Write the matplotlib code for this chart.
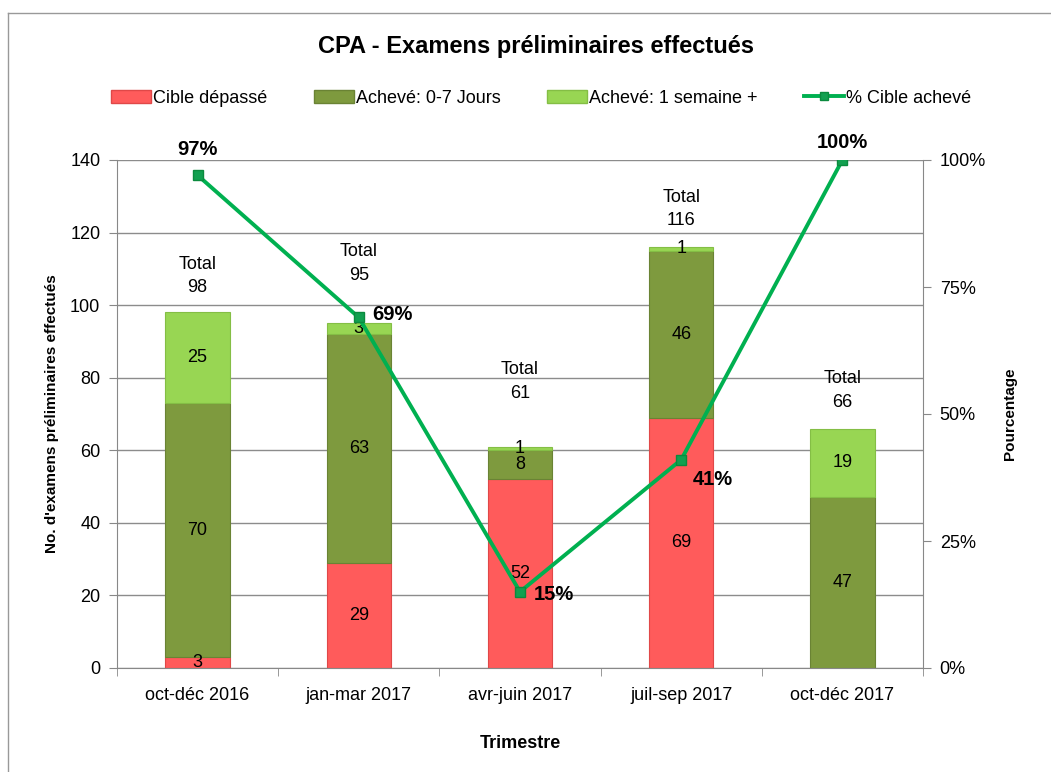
import numpy as np
import matplotlib.pyplot as plt
from matplotlib.lines import Line2D
from matplotlib.patches import Patch

plt.rcParams['font.family'] = ['Liberation Sans Narrow', 'Liberation Sans', 'DejaVu Sans']

trimestres = ["oct-déc 2016", "jan-mar 2017", "avr-juin 2017", "juil-sep 2017", "oct-déc 2017"]
cible_depasse = [3, 29, 52, 69, 0]
acheve_0_7 = [70, 63, 8, 46, 47]
acheve_1_sem = [25, 3, 1, 1, 19]
totaux = [98, 95, 61, 116, 66]
pct_cible = [0.97, 0.69, 0.15, 0.41, 1.00]
pct_labels = ["97%", "69%", "15%", "41%", "100%"]

c_red = "#FF5B5B"
c_dark = "#7E9A3E"
c_light = "#98D653"
c_line = "#00B050"

fig = plt.figure(figsize=(10.51, 7.72), dpi=100)
ax = fig.add_axes([117 / 1051, 1 - 668 / 772, (923 - 117) / 1051, (668 - 160) / 772])

x = np.arange(len(trimestres))
w = 0.4
b1 = np.array(cible_depasse)
b2 = b1 + np.array(acheve_0_7)

ax.bar(x, cible_depasse, w, color=c_red, edgecolor="#E04848", linewidth=0.8, zorder=2)
ax.bar(x, acheve_0_7, w, bottom=b1, color=c_dark, edgecolor="#6A8334", linewidth=0.8, zorder=2)
ax.bar(x, acheve_1_sem, w, bottom=b2, color=c_light, edgecolor="#84BE45", linewidth=0.8, zorder=2)

# segment labels
for i in range(len(x)):
    segs = [(0, cible_depasse[i]), (b1[i], acheve_0_7[i]), (b2[i], acheve_1_sem[i])]
    for bot, v in segs:
        if v > 0:
            ax.text(x[i], bot + v / 2, str(v), ha="center", va="center", fontsize=13, zorder=5)

# total labels
total_offsets = [10, 16.5, 18, 10.5, 10.5]
for i in range(len(x)):
    ax.text(x[i], totaux[i] + total_offsets[i], "Total\n" + str(totaux[i]), ha="center", va="center",
            fontsize=13, linespacing=1.5, zorder=5)

ax.set_xlim(-0.5, len(x) - 0.5)
ax.set_ylim(0, 140)
ax.set_yticks(range(0, 141, 20))
ax.set_xticks(x)
ax.set_xticklabels(trimestres, fontsize=13)
ax.set_xticks(np.arange(-0.5, len(x)), minor=True)
ax.tick_params(axis="x", which="major", length=0, pad=14)
ax.tick_params(axis="x", which="minor", length=6, color="#888888", direction="out")
ax.tick_params(axis="y", length=6, color="#888888", labelsize=13, pad=6)
ax.grid(axis="y", color="#8C8C8C", linewidth=1, zorder=0)
ax.set_axisbelow(True)
for s in ["top", "right"]:
    ax.spines[s].set_visible(False)
ax.spines["left"].set_color("#888888")
ax.spines["bottom"].set_color("#888888")
ax.set_ylabel("No. d'examens préliminaires effectués", fontsize=11, fontweight="bold", labelpad=8)
ax.set_xlabel("Trimestre", fontsize=13, fontweight="bold", labelpad=22)

ax2 = ax.twinx()
ax2.set_ylim(0, 1)
ax2.set_yticks([0, 0.25, 0.5, 0.75, 1.0])
ax2.set_yticklabels(["0%", "25%", "50%", "75%", "100%"])
ax2.tick_params(axis="y", length=6, color="#888888", labelsize=13, pad=6)
for s in ["top", "left", "bottom"]:
    ax2.spines[s].set_visible(False)
ax2.spines["right"].set_color("#888888")
ax2.set_ylabel("Pourcentage", fontsize=11, fontweight="bold", labelpad=12)
ax2.plot(x, pct_cible, color=c_line, linewidth=2.8, marker="s", markersize=7,
         markerfacecolor="#12A050", markeredgecolor="#0B8A3E", zorder=4)

pct_pos = [(0, 12, "center", "bottom"), (10, 2, "left", "center"), (10, -2, "left", "center"),
           (8, -14, "left", "center"), (0, 6, "center", "bottom")]
for i in range(len(x)):
    dx, dy, ha, va = pct_pos[i]
    ax2.annotate(pct_labels[i], (x[i], pct_cible[i]), xytext=(dx, dy), textcoords="offset points",
                 ha=ha, va=va, fontsize=14.5, fontweight="bold", zorder=6)

fig.suptitle("CPA - Examens préliminaires effectués", x=0.51, y=0.955, fontsize=17, fontweight="bold")

handles = [Patch(facecolor=c_red, edgecolor="#E04848"),
           Patch(facecolor=c_dark, edgecolor="#6A8334"),
           Patch(facecolor=c_light, edgecolor="#84BE45"),
           Line2D([0], [0], color=c_line, linewidth=2.8, marker="s", markersize=6,
                  markerfacecolor="#12A050", markeredgecolor="#0B8A3E")]
labels = ["Cible dépassé", "Achevé: 0-7 Jours", "Achevé: 1 semaine +", "% Cible achevé"]
fig.legend(handles, labels, loc="center", bbox_to_anchor=(0.515, 0.873), ncol=4, frameon=False,
           fontsize=13, handlelength=2.2, handletextpad=0.1, columnspacing=2.6)

# outer chart border
fig.add_artist(Line2D([8 / 1051, 8 / 1051], [0, 1 - 13 / 772], color="#999999", linewidth=1,
                      transform=fig.transFigure))
fig.add_artist(Line2D([8 / 1051, 1], [1 - 13 / 772, 1 - 13 / 772], color="#999999", linewidth=1,
                      transform=fig.transFigure))

fig.savefig("out.png", dpi=100)
